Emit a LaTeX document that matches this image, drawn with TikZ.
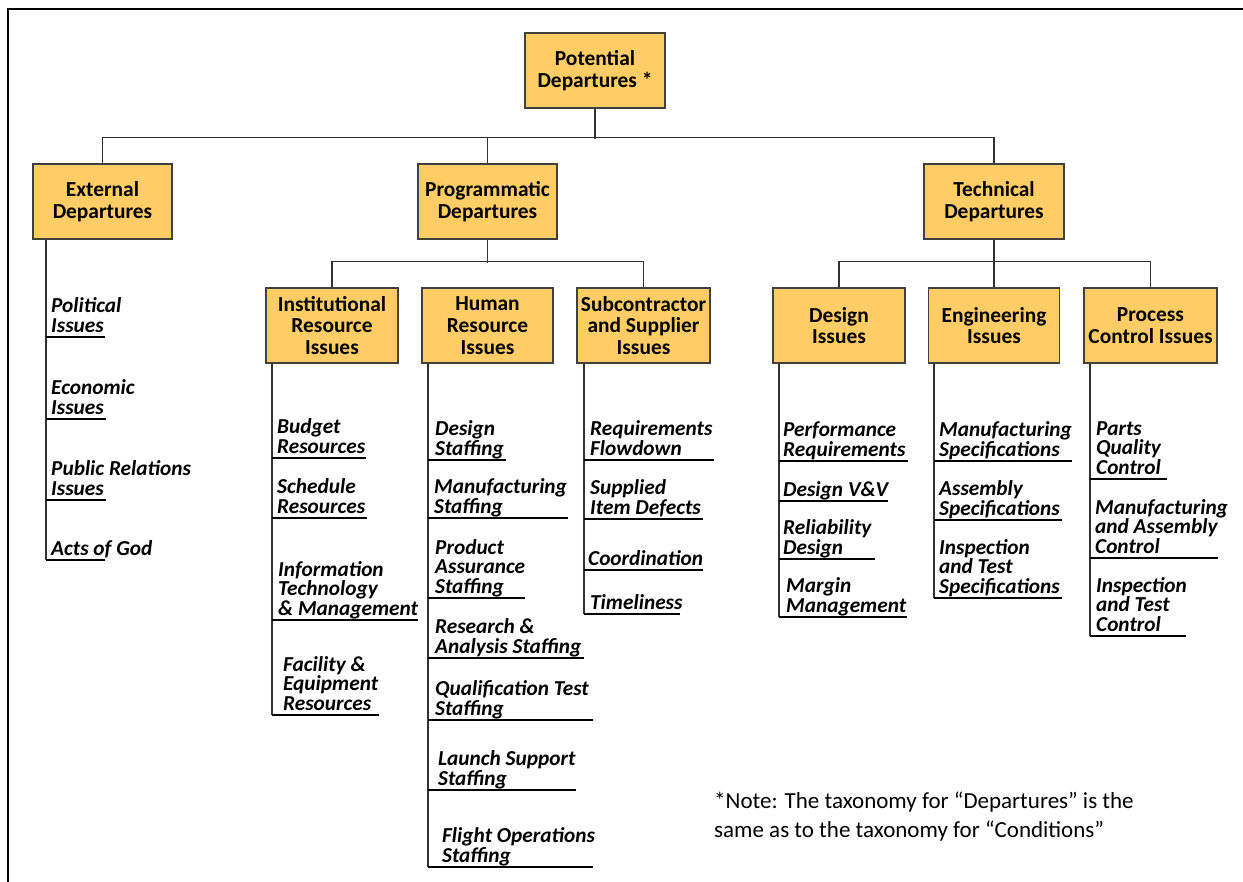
\documentclass[tikz,border=0pt]{standalone}
\usepackage{fontspec}
\setmainfont{Carlito}
\definecolor{boxfill}{HTML}{FFCC66}
\definecolor{boxline}{HTML}{404040}
\newcommand{\leafitem}[6]{%
  \node[leaf, anchor=south west] (#1) at (#3,#4-0.5) {#6\vphantom{g}};
  \draw[uline] (#2,#4) -- (#5,#4);}
\begin{document}
\begin{tikzpicture}[x=1pt,y=-1pt,
  box/.style={draw=boxline, fill=boxfill, line width=1.2pt, inner sep=0pt,
    align=center, font=\bfseries\fontsize{21.4}{21.8}\selectfont},
  leaf/.style={inner sep=0pt, align=left, font=\bfseries\itshape\fontsize{21.3}{19.8}\selectfont},
  conn/.style={draw=black!80, line width=1.2pt},
  uline/.style={draw=black, line width=1.8pt},
  frame/.style={draw=black, line width=1.5pt}]
\useasboundingbox (0,0) rectangle (1243,882);
\draw[frame] (8,882) -- (8,9) -- (1243,9);

% boxes
\node[box, minimum width=140pt, minimum height=75pt] (root) at (595,70.5) {Potential\\Departures *};
\node[box, minimum width=139pt, minimum height=75pt] (ext) at (102.5,201.5) {External\\Departures};
\node[box, minimum width=139pt, minimum height=75pt] (prog) at (487.5,201.5) {Programmatic\\Departures};
\node[box, minimum width=140pt, minimum height=75pt] (tech) at (994,201.5) {Technical\\Departures};
\node[box, minimum width=132pt, minimum height=75pt] (inst) at (332,325.5) {Institutional\\Resource\\Issues};
\node[box, minimum width=131pt, minimum height=75pt] (hum) at (487.5,325.5) {Human\\Resource\\Issues};
\node[box, minimum width=133pt, minimum height=75pt] (sub) at (643.5,325.5) {Subcontractor\\and Supplier\\Issues};
\node[box, minimum width=132pt, minimum height=75pt] (des) at (839,325.5) {Design\\Issues};
\node[box, minimum width=131pt, minimum height=75pt] (eng) at (994,325.5) {Engineering\\Issues};
\node[box, minimum width=133pt, minimum height=75pt] (proc) at (1150.5,325.5) {Process\\Control Issues};

% connectors
\draw[conn] (ext.north) -- ++(0,-26) -| (tech.north);
\draw[conn] (root.south) -- ++(0,30);
\draw[conn] (prog.north) -- ++(0,-26);
\draw[conn] (inst.north) -- ++(0,-26) -| (sub.north);
\draw[conn] (prog.south) -- ++(0,23);
\draw[conn] (des.north) -- ++(0,-26) -| (proc.north);
\draw[conn] (tech.south) -- (eng.north);

% leaf columns
\draw[conn] (ext.south -| 46,0) -- (46,560);
\leafitem{ext1}{46}{51}{337}{105}{Political\\Issues}
\leafitem{ext2}{46}{51}{419}{106}{Economic\\Issues}
\leafitem{ext3}{46}{51}{500}{106}{Public Relations\\Issues}
\leafitem{ext4}{46}{51}{560}{105}{Acts of God}

\draw[conn] (inst.south -| 272,0) -- (272,715);
\leafitem{inst1}{272}{277}{458}{366}{Budget\\Resources}
\leafitem{inst2}{272}{277}{518}{367}{Schedule\\Resources}
\leafitem{inst3}{272}{278}{620}{418}{Information\\Technology\\\& Management}
\leafitem{inst4}{272}{283}{715}{379}{Facility \&\\Equipment\\Resources}

\draw[conn] (hum.south -| 428,0) -- (428,867);
\leafitem{hum1}{428}{435}{460}{506}{Design\\Staffing}
\leafitem{hum2}{428}{434}{518}{568}{Manufacturing\\Staffing}
\leafitem{hum3}{428}{435}{598}{525}{Product\\Assurance\\Staffing}
\leafitem{hum4}{428}{435}{658}{584}{Research \&\\Analysis Staffing}
\leafitem{hum5}{428}{435}{720}{593}{Qualification Test\\Staffing}
\leafitem{hum6}{428}{438}{790}{576}{Launch Support\\Staffing}
\leafitem{hum7}{428}{442}{867}{593}{Flight Operations\\Staffing}

\draw[conn] (sub.south -| 584,0) -- (584,614);
\leafitem{sub1}{584}{590}{460}{714}{Requirements\\Flowdown}
\leafitem{sub2}{584}{590}{519}{703}{Supplied\\Item Defects}
\leafitem{sub3}{584}{588}{570}{703}{Coordination}
\leafitem{sub4}{584}{590}{614}{680}{Timeliness}

\draw[conn] (des.south -| 779,0) -- (779,617);
\leafitem{des1}{779}{783}{461}{908}{Performance\\Requirements}
\leafitem{des2}{779}{783}{501}{888}{Design V\&V}
\leafitem{des3}{779}{783}{559}{875}{Reliability\\Design}
\leafitem{des4}{779}{786}{617}{907}{Margin\\Management}

\draw[conn] (eng.south -| 934,0) -- (934,598);
\leafitem{eng1}{934}{939}{461}{1072}{Manufacturing\\Specifications}
\leafitem{eng2}{934}{939}{520}{1062}{Assembly\\Specifications}
\leafitem{eng3}{934}{939}{598}{1062}{Inspection\\and Test\\Specifications}

\draw[conn] (proc.south -| 1090,0) -- (1090,636);
\leafitem{proc1}{1090}{1096}{479}{1167}{Parts\\Quality\\Control}
\leafitem{proc2}{1090}{1095}{558}{1218}{Manufacturing\\and Assembly\\Control}
\leafitem{proc3}{1090}{1096}{636}{1186}{Inspection\\and Test\\Control}

% note
\node[inner sep=0pt, align=left, anchor=north west, font=\fontsize{23}{29}\selectfont] (note) at (714,792)
  {*Note: The taxonomy for “Departures” is the\\same as to the taxonomy for “Conditions”};
\end{tikzpicture}
\end{document}
